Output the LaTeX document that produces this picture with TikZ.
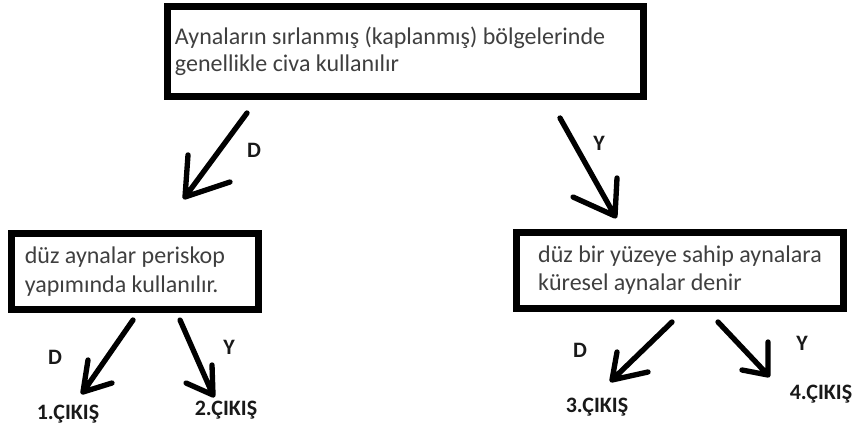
\documentclass[tikz,border=0pt]{standalone}
\usepackage{fontspec}
\setmainfont{Carlito}
\definecolor{txt}{HTML}{3F3F3F}

\begin{document}
\begin{tikzpicture}[x=0.75pt,y=-0.75pt,
    box/.style={draw, line width=5.25pt, align=flush left, text=txt, inner ysep=0pt,
        font=\fontsize{18}{21.5}\selectfont},
    lbl/.style={font=\fontsize{16.5}{18}\selectfont\bfseries, text=black!90},
    arr/.style={line width=4pt, line cap=round, line join=round}]
    \useasboundingbox (0,0) rectangle (861,435);

    \node[box, font=\fontsize{18}{20.5}\selectfont, minimum width=357pt, minimum height=67.5pt, text width=345.8pt, inner xsep=5.6pt] (Q1) at (405.5,51.5) {Aynaların sırlanmış (kaplanmış) bölgelerinde\\genellikle civa kullanılır};
    \node[box, minimum width=185.25pt, minimum height=57pt, text width=165.25pt, inner xsep=10pt] (Q2) at (135,271.5) {düz aynalar periskop\\yapımında kullanılır.};
    \node[box, align=left, minimum width=245.25pt, minimum height=57pt] (Q3) at (680,270) {düz bir yüzeye sahip aynalara\\küresel aynalar denir};

    \coordinate (A1) at (247,113); \coordinate (T1) at (185,197);
    \draw[arr] (A1) -- (T1) -- ++(3,-42) (T1) -- ++(45,-15);
    \node[lbl] (D1) at (254,150) {D};

    \coordinate (A2) at (560,118); \coordinate (T2) at (615,216);
    \draw[arr] (A2) -- (T2) -- ++(2,-38) (T2) -- ++(-42,-19);
    \node[lbl] (Y1) at (599,143) {Y};

    \coordinate (A3) at (133,320); \coordinate (T3) at (83,392);
    \draw[arr] (A3) -- (T3) -- ++(5,-32) (T3) -- ++(29,-9);
    \node[lbl] (D2) at (55,357) {D};
    \node[lbl] (C1) at (68,414) {1.ÇIKIŞ};

    \coordinate (A4) at (180,320); \coordinate (T4) at (213,395);
    \draw[arr] (A4) -- (T4) -- ++(-1,-30) (T4) -- ++(-27,-12);
    \node[lbl] (Y2) at (229,347) {Y};
    \node[lbl] (C2) at (226,410) {2.ÇIKIŞ};

    \coordinate (A5) at (672,322); \coordinate (T5) at (612,380);
    \draw[arr] (A5) -- (T5) -- ++(5,-28) (T5) -- ++(36,-8);
    \node[lbl] (D3) at (580,350) {D};
    \node[lbl] (C3) at (597,407) {3.ÇIKIŞ};

    \coordinate (A6) at (718,322); \coordinate (T6) at (768,375);
    \draw[arr] (A6) -- (T6) -- ++(0,-33) (T6) -- ++(-26,-5);
    \node[lbl] (Y3) at (802,343) {Y};
    \node[lbl] (C4) at (821,394) {4.ÇIKIŞ};
\end{tikzpicture}
\end{document}
